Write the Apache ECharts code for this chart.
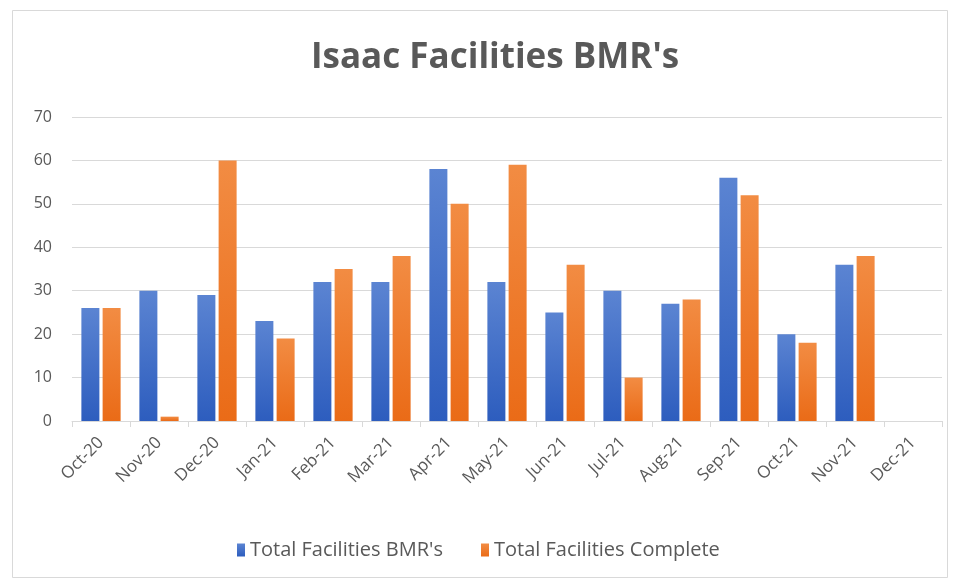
<!DOCTYPE html>
<html><head><meta charset="utf-8">
<script src="https://cdn.jsdelivr.net/npm/echarts@6/dist/echarts.min.js"></script>
<style>html,body{margin:0;padding:0;background:#fff}#c{width:957px;height:581px}</style>
</head><body><div id="c"></div>
<script>
const categories = ['Oct-20','Nov-20','Dec-20','Jan-21','Feb-21','Mar-21','Apr-21','May-21','Jun-21','Jul-21','Aug-21','Sep-21','Oct-21','Nov-21','Dec-21'];
const totalBMRs = [26,30,29,23,32,32,58,32,25,30,27,56,20,36,null];
const totalComplete = [26,1,60,19,35,38,50,59,36,10,28,52,18,38,null];
const yTicks = {min:0, max:70, interval:10};

const grad = (top, bottom) => new echarts.graphic.LinearGradient(0,0,0,1,[{offset:0,color:top},{offset:1,color:bottom}]);
const chart = echarts.init(document.getElementById('c'), null, {renderer:'canvas'});
const font = "'Open Sans', 'Liberation Sans', sans-serif";
chart.setOption({
  animation:false,
  backgroundColor:'#fff',
  title:{text:"Isaac Facilities BMR's", left:306, top:36,
    textStyle:{fontFamily:font, fontSize:35, fontWeight:'bold', color:'#595959'}},
  graphic:[{type:'rect', shape:{x:12.5,y:10.5,width:935,height:567}, style:{fill:'none', stroke:'#d9d9d9', lineWidth:1}, silent:true}],
  legend:{top:535, left:232, itemWidth:8, itemHeight:13, itemGap:38,
    icon:'rect',
    textStyle:{fontFamily:font, fontSize:20, color:'#595959'},
    data:["Total Facilities BMR's","Total Facilities Complete"]},
  grid:{left:72, right:15, top:117, bottom:160, containLabel:false},
  xAxis:{type:'category', data:categories, boundaryGap:true,
    axisLine:{lineStyle:{color:'#d9d9d9'}},
    axisTick:{show:true, interval:0, length:6, lineStyle:{color:'#d9d9d9'}},
    axisLabel:{interval:0, rotate:45, fontFamily:font, fontSize:17, color:'#595959', margin:19}},
  yAxis:{type:'value', min:yTicks.min, max:yTicks.max, interval:yTicks.interval,
    axisLine:{show:false}, axisTick:{show:false},
    splitLine:{lineStyle:{color:'#d9d9d9'}},
    axisLabel:{fontFamily:font, fontSize:16, color:'#595959', margin:20}},
  series:[
    {name:"Total Facilities BMR's", type:'bar', data:totalBMRs, barWidth:18, barGap:'18%',
      itemStyle:{color:grad('#5b84d2','#2d5dbe')}},
    {name:"Total Facilities Complete", type:'bar', data:totalComplete, barWidth:18,
      itemStyle:{color:grad('#f28c43','#ea6b17')}}
  ]
});
</script></body></html>
